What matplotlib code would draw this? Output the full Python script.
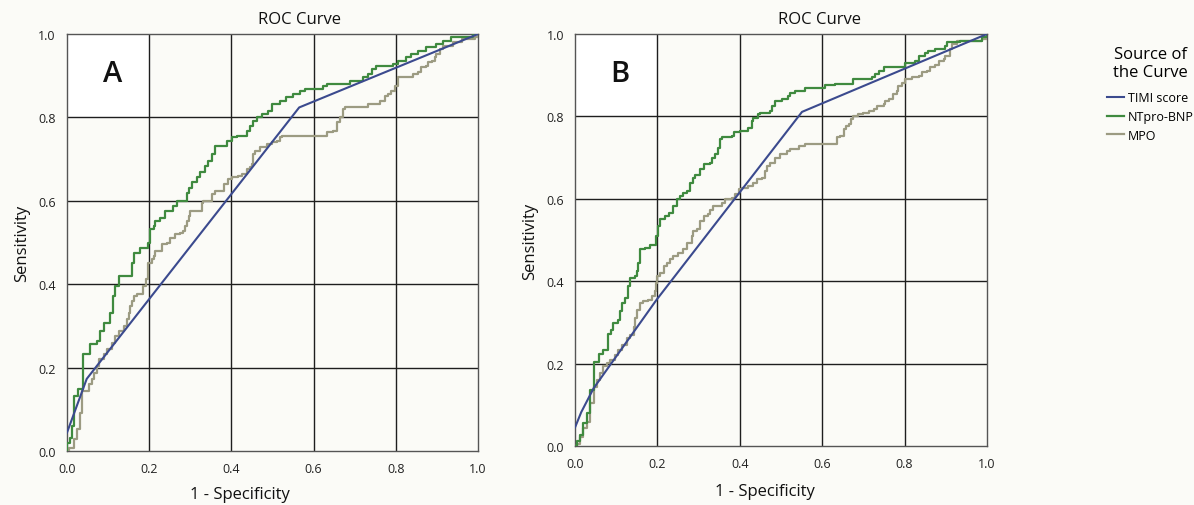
import matplotlib.pyplot as plt
import numpy as np

plt.rcParams['font.family'] = ['Open Sans', 'DejaVu Sans']

# ROC data: (1 - specificity, sensitivity) at each riser top
timi_a_x = [0.0, 0.048, 0.565, 1.0]
timi_a_y = [0.044, 0.173, 0.824, 1.0]

bnp_a_x = [0.0, 0.0, 0.008, 0.012, 0.016, 0.018, 0.028, 0.039, 0.057, 0.073, 0.081,
           0.089, 0.105, 0.113, 0.117, 0.126, 0.158, 0.164, 0.178, 0.196, 0.202,
           0.211, 0.215, 0.227, 0.239, 0.259, 0.267, 0.291, 0.296, 0.304, 0.316,
           0.324, 0.336, 0.344, 0.352, 0.360, 0.389, 0.402, 0.413, 0.437, 0.445,
           0.453, 0.462, 0.474, 0.490, 0.498, 0.518, 0.534, 0.551, 0.567, 0.579,
           0.623, 0.632, 0.688, 0.721, 0.733, 0.741, 0.753, 0.794, 0.806, 0.826,
           0.838, 0.854, 0.874, 0.899, 0.915, 0.935, 0.988, 1.0]
bnp_a_y = [0.0, 0.02, 0.032, 0.06, 0.10, 0.132, 0.148, 0.232, 0.256, 0.264, 0.288,
           0.308, 0.332, 0.372, 0.396, 0.42, 0.452, 0.476, 0.488, 0.50, 0.532,
           0.54, 0.552, 0.56, 0.576, 0.588, 0.60, 0.62, 0.632, 0.644, 0.656,
           0.668, 0.684, 0.696, 0.712, 0.732, 0.744, 0.752, 0.756, 0.768, 0.78,
           0.792, 0.80, 0.808, 0.816, 0.832, 0.84, 0.848, 0.856, 0.864, 0.868,
           0.876, 0.88, 0.888, 0.896, 0.904, 0.916, 0.924, 0.928, 0.936, 0.944,
           0.952, 0.96, 0.968, 0.976, 0.984, 0.992, 1.0, 1.0]

mpo_a_x = [0.0, 0.004, 0.016, 0.024, 0.032, 0.036, 0.053, 0.061, 0.065, 0.073, 0.077,
           0.089, 0.097, 0.109, 0.117, 0.126, 0.138, 0.146, 0.150, 0.154, 0.158,
           0.162, 0.170, 0.186, 0.193, 0.196, 0.198, 0.206, 0.211, 0.215, 0.231,
           0.243, 0.251, 0.263, 0.275, 0.283, 0.287, 0.291, 0.296, 0.300, 0.328,
           0.332, 0.352, 0.360, 0.381, 0.393, 0.402, 0.417, 0.425, 0.437, 0.445,
           0.449, 0.453, 0.457, 0.470, 0.486, 0.498, 0.510, 0.518, 0.522, 0.632,
           0.648, 0.656, 0.664, 0.672, 0.676, 0.733, 0.761, 0.773, 0.781, 0.789,
           0.798, 0.806, 0.842, 0.854, 0.862, 0.874, 0.879, 0.887, 0.895, 0.899,
           0.907, 0.915, 0.939, 0.960, 0.992, 1.0]
mpo_a_y = [0.0, 0.008, 0.028, 0.052, 0.092, 0.144, 0.16, 0.172, 0.188, 0.204, 0.22,
           0.232, 0.244, 0.26, 0.276, 0.288, 0.30, 0.316, 0.332, 0.348, 0.36,
           0.372, 0.376, 0.396, 0.412, 0.424, 0.452, 0.46, 0.468, 0.48, 0.496,
           0.50, 0.51, 0.52, 0.524, 0.528, 0.54, 0.552, 0.564, 0.576, 0.596,
           0.60, 0.616, 0.624, 0.64, 0.652, 0.656, 0.66, 0.664, 0.676, 0.68,
           0.688, 0.712, 0.72, 0.728, 0.736, 0.74, 0.744, 0.752, 0.756, 0.764,
           0.768, 0.788, 0.80, 0.82, 0.824, 0.832, 0.84, 0.852, 0.856, 0.864,
           0.876, 0.896, 0.904, 0.908, 0.92, 0.924, 0.932, 0.936, 0.944, 0.952,
           0.964, 0.972, 0.98, 0.988, 0.992, 1.0]

timi_b_x = [0.0, 0.015, 0.045, 0.198, 0.551, 1.0]
timi_b_y = [0.045, 0.082, 0.14, 0.355, 0.811, 1.0]

bnp_b_x = [0.0, 0.004, 0.012, 0.020, 0.028, 0.036, 0.045, 0.058, 0.069, 0.079, 0.087,
           0.091, 0.105, 0.109, 0.113, 0.121, 0.128, 0.134, 0.146, 0.150, 0.154,
           0.158, 0.170, 0.182, 0.196, 0.201, 0.206, 0.219, 0.227, 0.239, 0.247,
           0.255, 0.263, 0.271, 0.279, 0.287, 0.291, 0.304, 0.312, 0.328, 0.332,
           0.340, 0.348, 0.352, 0.356, 0.381, 0.385, 0.401, 0.421, 0.429, 0.433,
           0.445, 0.449, 0.474, 0.479, 0.486, 0.502, 0.518, 0.522, 0.534, 0.559,
           0.607, 0.632, 0.676, 0.721, 0.729, 0.737, 0.749, 0.802, 0.826, 0.834,
           0.850, 0.858, 0.874, 0.899, 0.903, 0.935, 0.988, 1.0]
bnp_b_y = [0.0, 0.011, 0.027, 0.055, 0.079, 0.136, 0.203, 0.224, 0.234, 0.273, 0.282,
           0.298, 0.307, 0.327, 0.347, 0.359, 0.388, 0.408, 0.412, 0.424, 0.444,
           0.477, 0.481, 0.489, 0.509, 0.534, 0.55, 0.558, 0.566, 0.582, 0.599,
           0.607, 0.615, 0.619, 0.639, 0.651, 0.659, 0.672, 0.684, 0.688, 0.70,
           0.708, 0.724, 0.745, 0.749, 0.753, 0.761, 0.765, 0.773, 0.789, 0.795,
           0.805, 0.809, 0.813, 0.826, 0.838, 0.842, 0.85, 0.858, 0.862, 0.87,
           0.876, 0.878, 0.891, 0.895, 0.903, 0.911, 0.919, 0.929, 0.935, 0.947,
           0.954, 0.959, 0.963, 0.972, 0.98, 0.984, 0.992, 1.0]

mpo_b_x = [0.0, 0.004, 0.012, 0.020, 0.028, 0.036, 0.045, 0.053, 0.061, 0.069, 0.077,
           0.085, 0.097, 0.105, 0.113, 0.126, 0.134, 0.142, 0.146, 0.150, 0.158,
           0.166, 0.178, 0.186, 0.193, 0.196, 0.198, 0.206, 0.215, 0.223, 0.231,
           0.239, 0.251, 0.263, 0.271, 0.283, 0.287, 0.296, 0.304, 0.312, 0.324,
           0.328, 0.336, 0.356, 0.364, 0.381, 0.389, 0.397, 0.405, 0.421, 0.433,
           0.441, 0.453, 0.462, 0.466, 0.474, 0.486, 0.498, 0.514, 0.522, 0.543,
           0.559, 0.636, 0.644, 0.652, 0.657, 0.664, 0.670, 0.676, 0.688, 0.700,
           0.713, 0.725, 0.733, 0.749, 0.753, 0.761, 0.773, 0.781, 0.785, 0.794,
           0.802, 0.818, 0.834, 0.842, 0.854, 0.862, 0.874, 0.883, 0.895, 0.899,
           0.911, 0.915, 0.927, 0.988, 1.0]
mpo_b_y = [0.0, 0.006, 0.023, 0.043, 0.059, 0.104, 0.144, 0.161, 0.177, 0.193, 0.201,
           0.209, 0.221, 0.234, 0.246, 0.262, 0.27, 0.29, 0.311, 0.331, 0.347,
           0.351, 0.355, 0.363, 0.376, 0.396, 0.412, 0.42, 0.436, 0.444, 0.453,
           0.461, 0.469, 0.477, 0.493, 0.509, 0.521, 0.526, 0.546, 0.558, 0.562,
           0.574, 0.582, 0.59, 0.599, 0.603, 0.611, 0.623, 0.627, 0.631, 0.639,
           0.647, 0.651, 0.667, 0.68, 0.688, 0.70, 0.708, 0.716, 0.72, 0.728,
           0.734, 0.749, 0.753, 0.769, 0.777, 0.781, 0.793, 0.801, 0.805, 0.809,
           0.813, 0.818, 0.826, 0.83, 0.838, 0.842, 0.854, 0.862, 0.874, 0.882,
           0.891, 0.895, 0.899, 0.907, 0.911, 0.919, 0.925, 0.935, 0.939, 0.947,
           0.963, 0.976, 0.984, 0.988, 1.0]

labels = ['TIMI score', 'NTpro-BNP', 'MPO']
colors = ['#3b4a8e', '#3f8a3f', '#9c9b82']
ticks = [0.0, 0.2, 0.4, 0.6, 0.8, 1.0]
tick_labels = ['0.0', '0.2', '0.4', '0.6', '0.8', '1.0']

fig = plt.figure(figsize=(11.94, 5.06), dpi=100)
fig.patch.set_facecolor('#fbfbf7')

ax_a = fig.add_axes([0.0561, 0.1067, 0.3442, 0.824])
ax_b = fig.add_axes([0.4816, 0.1166, 0.3450, 0.8142])

panels = [
    (ax_a, 'A', timi_a_x, timi_a_y, bnp_a_x, bnp_a_y, mpo_a_x, mpo_a_y),
    (ax_b, 'B', timi_b_x, timi_b_y, bnp_b_x, bnp_b_y, mpo_b_x, mpo_b_y),
]

for ax, letter, tx, ty, bx, by, mx, my in panels:
    ax.set_facecolor('#fbfbf7')
    ax.axvspan(0.0, 0.2, ymin=0.8, ymax=1.0, color='white', zorder=0)
    for t in ticks[1:-1]:
        ax.axvline(t, color='#1e1e1e', lw=1.0, zorder=1)
        ax.axhline(t, color='#1e1e1e', lw=1.0, zorder=1)
    ax.plot(mx, my, drawstyle='steps-post', color=colors[2], lw=1.6, zorder=3, label=labels[2])
    ax.plot(bx, by, drawstyle='steps-post', color=colors[1], lw=1.6, zorder=4, label=labels[1])
    ax.plot(tx, ty, color=colors[0], lw=1.5, zorder=5, label=labels[0])
    ax.set_xlim(0, 1)
    ax.set_ylim(0, 1)
    ax.set_xticks(ticks)
    ax.set_xticklabels(tick_labels)
    ax.set_yticks(ticks)
    ax.set_yticklabels(tick_labels)
    ax.tick_params(length=0, labelsize=9, pad=8, colors='#222222')
    for s in ax.spines.values():
        s.set_color('#555555')
        s.set_linewidth(1.0)
    ax.text(0.11, 0.905, letter, transform=ax.transAxes, ha='center', va='center',
            fontsize=21, fontweight='semibold', color='#111111')
    ax.set_ylabel('Sensitivity', fontsize=12, labelpad=6, color='#111111')

# titles and x labels sit off-centre in the original
fig.text(300 / 1194, 1 - 20 / 506, 'ROC Curve', ha='center', va='center', fontsize=12,
         fontweight='medium', color='#111111')
fig.text(819 / 1194, 1 - 20 / 506, 'ROC Curve', ha='center', va='center', fontsize=12,
         fontweight='medium', color='#111111')
fig.text(240 / 1194, 1 - 495 / 506, '1 - Specificity', ha='center', va='center', fontsize=12, color='#111111')
fig.text(765 / 1194, 1 - 492 / 506, '1 - Specificity', ha='center', va='center', fontsize=12, color='#111111')

handles = [ax_a.get_lines()[-1], ax_a.get_lines()[-2], ax_a.get_lines()[-3]]
leg = fig.legend(handles, labels, loc='upper left', bbox_to_anchor=(1098 / 1194, 1 - 38 / 506),
                 frameon=False, title='Source of\nthe Curve', fontsize=9, title_fontsize=12,
                 handlelength=1.4, handletextpad=0.3, labelspacing=0.45, borderpad=0.2)
leg.get_title().set_multialignment('center')
leg._legend_box.sep = 8

fig.savefig('out.png', dpi=100, facecolor=fig.get_facecolor())
